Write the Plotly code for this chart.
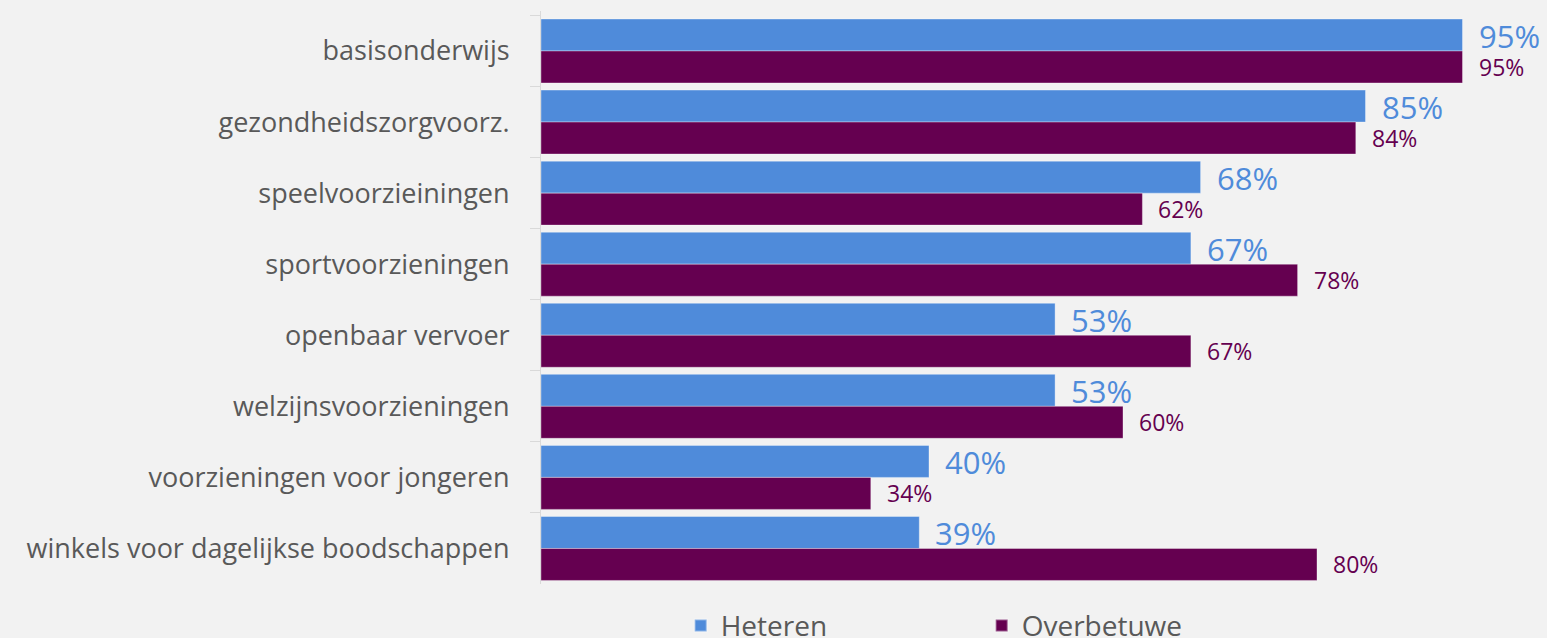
import plotly.graph_objects as go

categories = ["basisonderwijs", "gezondheidszorgvoorz.", "speelvoorzieiningen",
              "sportvoorzieningen", "openbaar vervoer", "welzijnsvoorzieningen",
              "voorzieningen voor jongeren", "winkels voor dagelijkse boodschappen"]
heteren = [95, 85, 68, 67, 53, 53, 40, 39]
overbetuwe = [95, 84, 62, 78, 67, 60, 34, 80]

C_HET = "#4F8BDA"
C_OVB = "#650050"
FONT = "Open Sans"

fig = go.Figure()
fig.add_trace(go.Bar(y=categories, x=heteren, orientation="h", name="Heteren",
                     marker=dict(color=C_HET, line=dict(color="rgba(255,255,255,0.35)", width=1))))
fig.add_trace(go.Bar(y=categories, x=overbetuwe, orientation="h", name="Overbetuwe",
                     marker=dict(color=C_OVB, line=dict(color="rgba(255,255,255,0.35)", width=1))))

bw = 0.45
for i, (h, o) in enumerate(zip(heteren, overbetuwe)):
    fig.add_annotation(x=h, y=i - bw / 2, text=f"{h}%", showarrow=False, xanchor="left",
                       xshift=14, yshift=-1, font=dict(family=FONT, size=31, color=C_HET))
    fig.add_annotation(x=o, y=i + bw / 2, text=f"{o}%", showarrow=False, xanchor="left",
                       xshift=14, font=dict(family=FONT, size=23, color=C_OVB))

fig.update_layout(
    width=1547, height=638,
    paper_bgcolor="#F2F2F2", plot_bgcolor="#F2F2F2",
    margin=dict(l=541, r=36, t=11, b=54, autoexpand=False),
    barmode="group", bargap=0.1, bargroupgap=0,
    font=dict(family=FONT, color="#595959"),
    showlegend=True,
    legend=dict(orientation="h", x=0.144, xanchor="left",
                yref="container", y=0.019, yanchor="middle",
                font=dict(family=FONT, size=28, color="#595959"),
                entrywidth=256, entrywidthmode="pixels",
                bgcolor="rgba(0,0,0,0)", itemsizing="constant"),
)
fig.update_xaxes(range=[0, 100], showgrid=False, zeroline=False, showticklabels=False,
                 showline=False, fixedrange=True)
fig.update_yaxes(autorange="reversed", type="category", showgrid=False, zeroline=False,
                 showline=True, linecolor="#D9D9D9", linewidth=1,
                 ticks="outside", tickson="boundaries", ticklen=10, tickcolor="#D9D9D9",
                 ticklabelstandoff=25,
                 tickfont=dict(family=FONT, size=27, color="#595959"))

fig.write_html("out.html", config={"displayModeBar": False},
               post_script="document.body.style.margin='0';document.body.style.background='#F2F2F2';")
